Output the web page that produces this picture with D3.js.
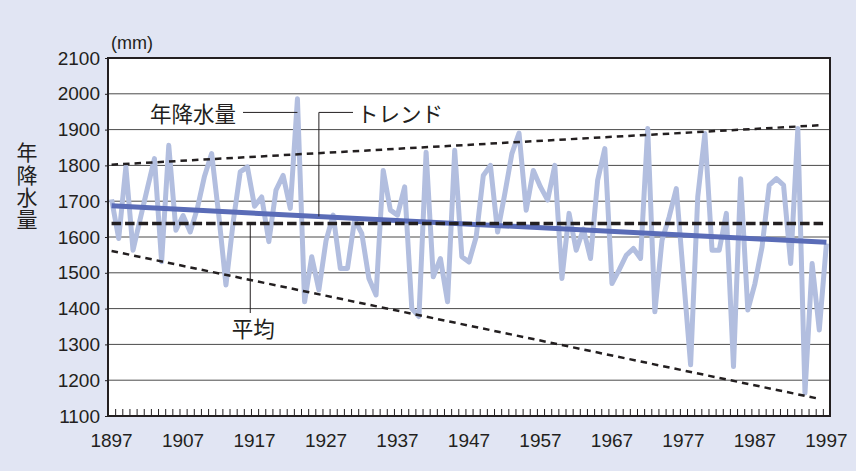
<!DOCTYPE html>
<html>
<head>
<meta charset="utf-8">
<script src="https://cdn.jsdelivr.net/npm/d3@7"></script>
<style>
  html, body { margin: 0; padding: 0; background: #e1e5f3; }
  svg { display: block; }
</style>
</head>
<body>
<svg id="chart" width="856" height="471"></svg>
<script>
// ---- data ----
const years = d3.range(1897, 1998);
const precip = [
  1705, 1596, 1796, 1563, 1650, 1735, 1819, 1531, 1856, 1619,
  1660, 1614, 1680, 1770, 1833, 1660, 1466, 1640, 1782, 1796,
  1686, 1712, 1587, 1731, 1772, 1680, 1986, 1419, 1545, 1452,
  1590, 1661, 1512, 1512, 1648, 1610, 1484, 1438, 1786, 1675,
  1661, 1740, 1400, 1378, 1837, 1489, 1540, 1419, 1842, 1545,
  1530, 1600, 1772, 1800, 1614, 1720, 1833, 1890, 1675, 1786,
  1740, 1703, 1800, 1484, 1666, 1563, 1622, 1540, 1759, 1847,
  1470, 1508, 1549, 1568, 1540, 1903, 1391, 1591, 1656, 1735,
  1489, 1243, 1712, 1889, 1563, 1563, 1666, 1238, 1763, 1396,
  1470, 1573, 1745, 1763, 1745, 1526, 1903, 1164, 1526, 1340,
  1582
];
const meanValue = 1638;
const trendEnds = [{year: 1897, v: 1687}, {year: 1997, v: 1585}];
const upperEnds = [{year: 1897, v: 1802}, {year: 1996, v: 1912}];
const lowerEnds = [{year: 1897, v: 1561}, {year: 1996, v: 1148}];
const yTicks = [1100, 1200, 1300, 1400, 1500, 1600, 1700, 1800, 1900, 2000, 2100];
const xLabels = [1897, 1907, 1917, 1927, 1937, 1947, 1957, 1967, 1977, 1987, 1997];
const yTitle = "年降水量";

// ---- layout ----
const L = 108, R = 830, T = 58, B = 416;
const svg = d3.select("#chart");
const num = "'Liberation Sans', Arial, sans-serif";
const cjk = "'Noto Sans CJK JP', 'Noto Sans CJK SC', sans-serif";

const xb = d3.scaleBand().domain(years).range([L, R]);
const xl = d3.scaleLinear().domain([1896.5, 1997.5]).range([L, R]);
const y = d3.scaleLinear().domain([1100, 2100]).range([B, T]);
const xc = yr => xl(yr);

// plot background
svg.append("rect").attr("x", L).attr("y", T).attr("width", R - L).attr("height", B - T)
  .attr("fill", "#ffffff");

// gridlines
svg.append("g").selectAll("line").data(yTicks.slice(1, -1)).join("line")
  .attr("x1", L).attr("x2", R).attr("y1", d => y(d)).attr("y2", d => y(d))
  .attr("stroke", "#4a4a4a").attr("stroke-width", 1);

// x ticks at category boundaries (inward)
const xAxis = d3.axisBottom(xl).tickValues(d3.range(1897.5, 1997, 1)).tickSize(-7).tickFormat("");
const gx = svg.append("g").attr("transform", `translate(0,${B})`).call(xAxis);
gx.select(".domain").remove();
gx.selectAll(".tick line").attr("stroke", "#231f20").attr("stroke-width", 1);

// y axis ticks (outward, short) and labels
const yAxis = d3.axisLeft(y).tickValues(yTicks).tickSize(3).tickPadding(5).tickFormat(d3.format("d"));
const gy = svg.append("g").attr("transform", `translate(${L},0)`).call(yAxis);
gy.select(".domain").remove();
gy.selectAll(".tick line").attr("stroke", "#231f20");
gy.selectAll(".tick text").attr("font-family", num).attr("font-size", 19).attr("fill", "#231f20");

// x labels
svg.append("g").selectAll("text").data(xLabels).join("text")
  .attr("x", d => xb(d) + xb.bandwidth() / 2).attr("y", 447)
  .attr("text-anchor", "middle").attr("font-family", num).attr("font-size", 19)
  .attr("fill", "#231f20").text(d => d);

// data line
const line = d3.line().x((d, i) => xb(years[i]) + xb.bandwidth() / 2).y(d => y(d));
svg.append("path").datum(precip).attr("d", line)
  .attr("fill", "none").attr("stroke", "#b2bedf").attr("stroke-width", 5)
  .attr("stroke-linejoin", "round");

// straight lines helper
const seg = d3.line().x(d => xc(d.year)).y(d => y(d.v));

// upper / lower dashed envelopes
[upperEnds, lowerEnds].forEach(ends => {
  svg.append("path").datum(ends).attr("d", seg)
    .attr("fill", "none").attr("stroke", "#231f20").attr("stroke-width", 2.5)
    .attr("stroke-dasharray", "6.5,5");
});

// trend line
svg.append("path").datum(trendEnds).attr("d", seg)
  .attr("fill", "none").attr("stroke", "#5a6cb7").attr("stroke-width", 5);

// mean dashed
svg.append("path").datum([{year: 1897, v: meanValue}, {year: 1996.6, v: meanValue}]).attr("d", seg)
  .attr("fill", "none").attr("stroke", "#231f20").attr("stroke-width", 3.5)
  .attr("stroke-dasharray", "9.5,4");

// frame
svg.append("rect").attr("x", L).attr("y", T).attr("width", R - L).attr("height", B - T)
  .attr("fill", "none").attr("stroke", "#231f20").attr("stroke-width", 2);

// annotations
const ann = svg.append("g");
const annY = y(1948);
ann.append("text").attr("x", 150).attr("y", annY).attr("dominant-baseline", "central")
  .attr("font-family", cjk).attr("font-size", 21.5).attr("fill", "#231f20").text("年降水量");
ann.append("line").attr("x1", 243).attr("x2", xc(1923)).attr("y1", annY).attr("y2", annY)
  .attr("stroke", "#231f20").attr("stroke-width", 1);

const trendAt = yr => trendEnds[0].v + (trendEnds[1].v - trendEnds[0].v) * (yr - 1897) / 100;
ann.append("polyline")
  .attr("points", [[xc(1926), y(trendAt(1926))], [xc(1926), annY], [353, annY]].map(p => p.join(",")).join(" "))
  .attr("fill", "none").attr("stroke", "#231f20").attr("stroke-width", 1);
ann.append("text").attr("x", 357).attr("y", annY).attr("dominant-baseline", "central")
  .attr("font-family", cjk).attr("font-size", 21.5).attr("fill", "#231f20").text("トレンド");

const avgX = xc(1916.4);
ann.append("line").attr("x1", avgX).attr("x2", avgX).attr("y1", y(meanValue)).attr("y2", 313)
  .attr("stroke", "#231f20").attr("stroke-width", 1);
ann.append("text").attr("x", avgX + 3).attr("y", 327).attr("text-anchor", "middle")
  .attr("dominant-baseline", "central")
  .attr("font-family", cjk).attr("font-size", 21.5).attr("fill", "#231f20").text("平均");

// unit
svg.append("text").attr("x", 111).attr("y", 43).attr("dominant-baseline", "central")
  .attr("font-family", num).attr("font-size", 18).attr("fill", "#231f20").text("(mm)");

// y title (vertical, single text)
svg.append("text")
  .attr("x", 27).attr("y", 142)
  .style("writing-mode", "vertical-rl")
  .style("glyph-orientation-vertical", "0")
  .attr("letter-spacing", 1.3)
  .attr("font-family", cjk).attr("font-size", 21).attr("fill", "#231f20").text(yTitle);
</script>
</body>
</html>
